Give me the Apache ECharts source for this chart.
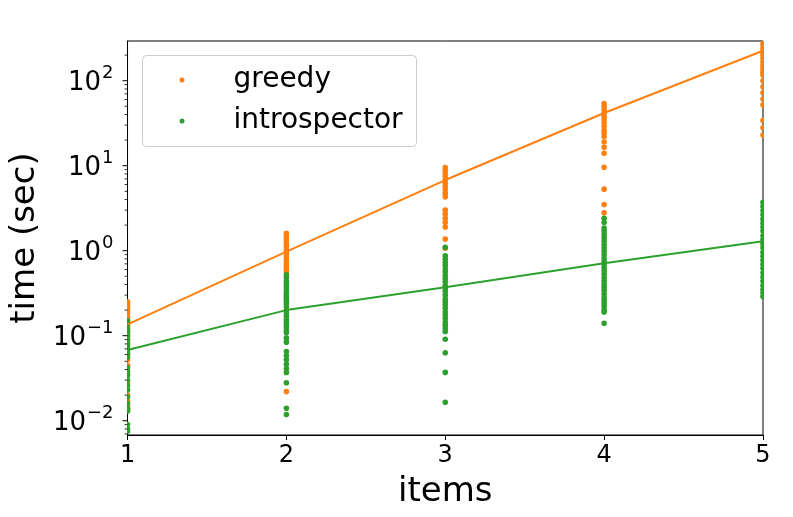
<!DOCTYPE html>
<html>
<head>
<meta charset="utf-8">
<script src="https://cdn.jsdelivr.net/npm/echarts@6/dist/echarts.min.js"></script>
<style>html,body{margin:0;padding:0;background:#fff;}#c{width:793px;height:517px;}</style>
</head>
<body>
<div id="c"></div>
<script>
// ---- data ----
const xValues = [1, 2, 3, 4, 5];
const greedyByX = [
  [0.25,0.23,0.21,0.195,0.18,0.165,0.15,0.14,0.125,0.115,0.1,0.09,0.08,0.068,0.06,0.052,0.045,0.035,0.028,0.02,0.017,0.015,0.0135],
  [1.6,1.5,1.4,1.3,1.2,1.1,1.02,0.95,0.88,0.82,0.76,0.7,0.65,0.6,0.56,0.28,0.022],
  [9.5,8.8,8.1,7.4,6.8,6.2,5.7,5.2,4.7,4.3,3.0,2.7,2.4,2.15,1.9,1.37,1.07],
  [54,50,46,42,38,35,32,29,26,24,22,19,16.5,14,9.6,5.3,3.5,2.8],
  [290,265,240,220,200,182,166,152,138,126,117,100,85,72,61,52,34,28,23]
];
const introspectorByX = [
  [0.15,0.135,0.12,0.11,0.1,0.09,0.082,0.075,0.068,0.062,0.056,0.042,0.038,0.034,0.03,0.026,0.023,0.019,0.016,0.014,0.013,0.009,0.008,0.0075],
  [0.52,0.48,0.44,0.41,0.38,0.35,0.32,0.3,0.28,0.26,0.24,0.22,0.2,0.185,0.17,0.155,0.145,0.135,0.125,0.115,0.108,0.094,0.084,0.065,0.058,0.052,0.046,0.041,0.037,0.028,0.014,0.0118],
  [1.1,0.87,0.8,0.73,0.67,0.61,0.56,0.51,0.47,0.43,0.39,0.36,0.33,0.3,0.27,0.25,0.23,0.21,0.19,0.175,0.16,0.145,0.133,0.122,0.112,0.091,0.063,0.037,0.0165],
  [2.4,2.15,1.85,1.7,1.55,1.42,1.3,1.18,1.08,0.99,0.9,0.82,0.75,0.69,0.63,0.58,0.53,0.48,0.44,0.4,0.37,0.34,0.31,0.28,0.26,0.24,0.22,0.2,0.19,0.14],
  [3.7,3.3,2.95,2.65,2.35,2.1,1.9,1.7,1.5,1.35,1.2,1.08,0.96,0.86,0.77,0.69,0.62,0.55,0.49,0.44,0.39,0.35,0.32,0.29]
];
const greedyFit = [0.136, 0.973, 6.78, 41.7, 225];
const introspectorFit = [0.068, 0.2, 0.371, 0.71, 1.29];
const yMajorTicks = [0.01, 0.1, 1, 10, 100];
const yMajorLabels = ['−2', '−1', '0', '1', '2'];
const yMinorTicks = [0.007,0.008,0.009,0.02,0.03,0.04,0.05,0.06,0.07,0.08,0.09,0.2,0.3,0.4,0.5,0.6,0.7,0.8,0.9,2,3,4,5,6,7,8,9,20,30,40,50,60,70,80,90,200];
const yMin = 0.00679, yMax = 293;
const seriesNames = ['greedy', 'introspector'];
const colors = ['#ff7f0e', '#2ca02c'];

// ---- build ----
function pairs(byX) {
  const out = [];
  byX.forEach((vals, i) => vals.forEach(v => out.push([xValues[i], v])));
  return out;
}
function linePairs(arr) { return arr.map((v, i) => [xValues[i], v]); }

const FONT = 'DejaVu Sans';
const tickData = yMajorTicks.map(v => [v, 5]).concat(yMinorTicks.map(v => [v, 3]));

function dotSeries(name, data, color) {
  return {
    name: name, type: 'custom', data: data, clip: true, z: 2,
    encode: {x: 0, y: 1},
    itemStyle: {color: color},
    renderItem: function (params, api) {
      const p = api.coord([api.value(0), api.value(1)]);
      return {type: 'circle', shape: {cx: p[0], cy: p[1], r: 2.8}, style: {fill: color}};
    }
  };
}

const chart = echarts.init(document.getElementById('c'), null, {renderer: 'canvas'});
chart.setOption({
  animation: false,
  backgroundColor: '#fff',
  grid: {left: 127, right: 30, top: 41, bottom: 82, show: true, borderColor: '#000', borderWidth: 1, backgroundColor: 'transparent'},
  xAxis: {
    type: 'value', min: 1, max: 5, interval: 1,
    name: 'items', nameLocation: 'middle', nameGap: 40,
    nameTextStyle: {fontFamily: FONT, fontSize: 34, color: '#000'},
    axisLine: {show: true, lineStyle: {color: '#000', width: 1}},
    axisTick: {show: true, length: 5, lineStyle: {color: '#000', width: 1}},
    axisLabel: {fontFamily: FONT, fontSize: 24, color: '#000', margin: 9},
    splitLine: {show: false}
  },
  yAxis: {
    type: 'log', logBase: 10, min: yMin, max: yMax,
    name: 'time (sec)', nameLocation: 'middle', nameGap: 79,
    nameTextStyle: {fontFamily: FONT, fontSize: 34, color: '#000'},
    axisLine: {show: true, lineStyle: {color: '#000', width: 1}},
    axisTick: {show: false},
    splitLine: {show: false},
    axisLabel: {
      margin: 14, color: '#000',
      formatter: function (v) {
        for (let i = 0; i < yMajorTicks.length; i++) {
          if (Math.abs(Math.log10(v) - Math.log10(yMajorTicks[i])) < 1e-6) {
            return '{b|10}{s|' + yMajorLabels[i] + '}';
          }
        }
        return '';
      },
      rich: {
        b: {fontFamily: FONT, fontSize: 26, color: '#000', verticalAlign: 'bottom', lineHeight: 32},
        s: {fontFamily: FONT, fontSize: 18, color: '#000', verticalAlign: 'top', lineHeight: 18, padding: [0, 0, 0, 1]}
      }
    }
  },
  legend: {
    data: seriesNames, orient: 'vertical', left: 179.5, top: 65, padding: 0,
    itemWidth: 5, itemHeight: 5, itemGap: 11, icon: 'circle',
    textStyle: {fontFamily: FONT, fontSize: 28, color: '#000', lineHeight: 30, padding: [0, 0, 0, 44]},
    z: 10
  },
  graphic: [{
    type: 'rect', left: 142, top: 55, z: 5,
    shape: {width: 274, height: 91, r: 4},
    style: {fill: 'rgba(255,255,255,0.8)', stroke: '#cccccc', lineWidth: 1}
  }],
  series: [
    dotSeries(seriesNames[0], pairs(greedyByX), colors[0]),
    dotSeries(seriesNames[1], pairs(introspectorByX), colors[1]),
    {name: 'greedy fit', type: 'line', data: linePairs(greedyFit), showSymbol: false, symbol: 'none', lineStyle: {color: colors[0], width: 2}, itemStyle: {color: colors[0]}, z: 3},
    {name: 'introspector fit', type: 'line', data: linePairs(introspectorFit), showSymbol: false, symbol: 'none', lineStyle: {color: colors[1], width: 2}, itemStyle: {color: colors[1]}, z: 3},
    {
      name: 'yticks', type: 'custom', data: tickData, clip: false, silent: true, z: 4,
      encode: {y: 0},
      renderItem: function (params, api) {
        const p = api.coord([xValues[0], api.value(0)]);
        const len = api.value(1);
        return {type: 'line', shape: {x1: p[0] - len, y1: p[1], x2: p[0], y2: p[1]},
                style: {stroke: '#000', lineWidth: len > 4 ? 1 : 0.8}};
      }
    }
  ]
});
</script>
</body>
</html>
